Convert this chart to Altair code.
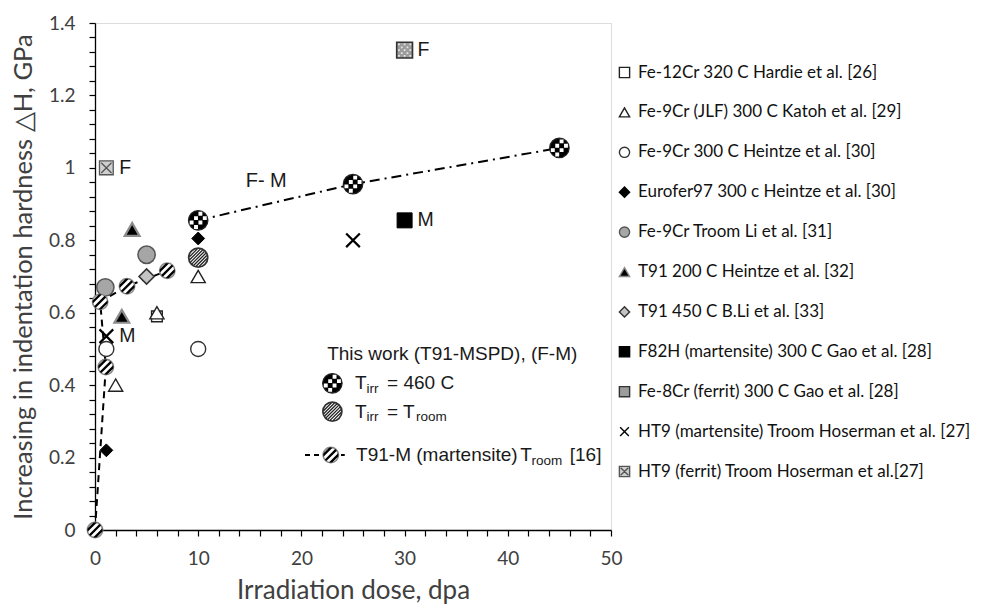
import altair as alt
import pandas as pd
import numpy as np

# ------------------------------------------------------------------ data
series_names = [
    "Fe-12Cr 320 C Hardie et al. [26]",
    "Fe-9Cr (JLF) 300 C Katoh et al. [29]",
    "Fe-9Cr 300 C Heintze et al. [30]",
    "Eurofer97 300 c Heintze et al. [30]",
    "Fe-9Cr Troom Li et al. [31]",
    "T91 200 C Heintze et al. [32]",
    "T91 450 C B.Li et al. [33]",
    "F82H (martensite) 300 C Gao et al. [28]",
    "Fe-8Cr (ferrit) 300 C Gao et al. [28]",
    "HT9 (martensite) Troom Hoserman et al. [27]",
    "HT9 (ferrit) Troom Hoserman et al.[27]",
]
series_dose = [
    [6.0],
    [2.0, 6.0, 10.0],
    [1.1, 10.0],
    [1.1, 10.0],
    [1.0, 5.0],
    [3.6, 2.6],
    [5.0],
    [30.0],
    [30.0],
    [1.1, 25.0],
    [1.1],
]
series_dh = [
    [0.59],
    [0.40, 0.60, 0.70],
    [0.50, 0.50],
    [0.22, 0.805],
    [0.67, 0.76],
    [0.83, 0.59],
    [0.70],
    [0.855],
    [1.325],
    [0.535, 0.80],
    [1.0],
]

# this work (T91-MSPD)
work460_dose = [10, 25, 45]
work460_dh = [0.855, 0.955, 1.055]
workroom_dose = [10]
workroom_dh = [0.752]
# T91-M (martensite) Troom [16]
t91m_dose = [0.0, 1.05, 0.5, 3.1, 7.0]
t91m_dh = [0.0, 0.45, 0.63, 0.673, 0.716]

# point tags
tag_series = ["Fe-8Cr (ferrit) 300 C Gao et al. [28]",
              "F82H (martensite) 300 C Gao et al. [28]",
              "HT9 (ferrit) Troom Hoserman et al.[27]",
              "HT9 (martensite) Troom Hoserman et al. [27]"]
tag_text = ["F", "M", "F", "M"]
fm_label = ["F- M"]
fm_dose = [14.6]
fm_dh = [0.965]

# inner legend (data coordinates)
inner_title = ["This work (T91-MSPD), (F-M)"]
inner_title_dose = [22.5]
inner_title_dh = [0.485]
inner_sym_kind = ["checker", "hatch", "stripe"]
inner_sym_dose = [23.0, 23.0, 22.85]
inner_sym_dh = [0.405, 0.327, 0.207]
inner_main_text = ["T", "= 460 C", "T", "= T", "T91-M (martensite)", "T", "[16]"]
inner_main_dose = [25.2, 28.3, 25.2, 28.3, 25.3, 41.2, 46.0]
inner_main_dh = [0.405, 0.405, 0.327, 0.327, 0.207, 0.207, 0.207]
inner_sub_text = ["irr", "irr", "room", "room"]
inner_sub_dose = [26.3, 26.3, 31.1, 42.3]
inner_sub_dh = [0.389, 0.311, 0.311, 0.19]
inner_dash_dose = [20.35, 24.2]
inner_dash_dh = [0.207, 0.207]

x_ticks = list(range(0, 51, 2))
y_ticks = [round(i * 0.04, 2) for i in range(36)]

# ------------------------------------------------------------------ styles
def sq(cx, cy, h):
    return f"M{cx-h:.3f},{cy-h:.3f}H{cx+h:.3f}V{cy+h:.3f}H{cx-h:.3f}Z"

cells = [-0.675, -0.225, 0.225, 0.675]
CHECK_PATH = " ".join(
    sq(cells[i], cells[j], 0.2)
    for i in range(4) for j in range(4)
    if (i + j) % 2 == 0 and (i, j) not in [(0, 0), (3, 3)]
)

# fine texture for the Fe-8Cr square
tex_cells = [-0.72, -0.36, 0.0, 0.36, 0.72]
TEXTURE_PATH = " ".join(
    sq(tex_cells[i], tex_cells[j], 0.11)
    for i in range(5) for j in range(5) if (i + j) % 2 == 0
)

def uv(u, v):
    s = np.sqrt(2)
    return (u + v) / s, (u - v) / s

hatch_parts = []
for c in [-0.72, -0.48, -0.24, 0.0, 0.24, 0.48, 0.72]:
    h = np.sqrt(0.93 ** 2 - c ** 2)
    x1, y1 = uv(c, -h)
    x2, y2 = uv(c, h)
    hatch_parts.append(f"M{x1:.3f},{y1:.3f}L{x2:.3f},{y2:.3f}")
HATCH_PATH = " ".join(hatch_parts)

band_parts = []
for a, b in [(-0.82, -0.52), (-0.15, 0.15), (0.52, 0.82)]:
    us = np.linspace(a, b, 8)
    ptsb = [uv(u, 0.97 * np.sqrt(max(1 - u * u, 0))) for u in us] + \
           [uv(u, -0.97 * np.sqrt(max(1 - u * u, 0))) for u in us[::-1]]
    band_parts.append("M" + "L".join(f"{x:.3f},{y:.3f}" for x, y in ptsb) + "Z")
STRIPE_PATH = " ".join(band_parts)

X_PATH = "M-0.85,-0.85L0.85,0.85M-0.85,0.85L0.85,-0.85"
XBOX_PATH = "M-1,-1L1,-1L1,1L-1,1Z M-0.75,-0.75L0.75,0.75M-0.75,0.75L0.75,-0.75"

shapes = ["square", "triangle-up", "circle", "diamond", "circle", "triangle-up",
          "diamond", "square", "square", X_PATH, XBOX_PATH]
fills = ["white", "white", "white", "black", "#a6a6a6", "black",
         "#c4c4c4", "black", "#9c9c9c", "black", "#cfcfcf"]
strokes = ["#222222", "#222222", "#333333", "black", "#555555", "#8c8c8c",
           "#333333", "black", "#333333", "black", "#555555"]
sizes = [115, 200, 225, 165, 300, 220, 230, 225, 250, 260, 190]
swidths = [1.4, 1.4, 1.4, 1.0, 1.5, 2.2, 1.6, 1.0, 1.6, 2.2, 1.3]

# ------------------------------------------------------------------ tables
rows = []
for k, (name, xs, ys) in enumerate(zip(series_names, series_dose, series_dh)):
    for xv, yv in zip(xs, ys):
        rows.append({"series": name, "dose": xv, "dh": yv,
                     "sz": sizes[k], "sw": swidths[k]})
pts = pd.DataFrame(rows)

tag_rows = []
for s, t in zip(tag_series, tag_text):
    i = series_names.index(s)
    tag_rows.append({"dose": series_dose[i][0], "dh": series_dh[i][0], "label": t})
tags = pd.DataFrame(tag_rows)

fe8 = series_names.index("Fe-8Cr (ferrit) 300 C Gao et al. [28]")
tex_pts = pd.DataFrame({"dose": series_dose[fe8], "dh": series_dh[fe8]})

w460 = pd.DataFrame({"dose": work460_dose, "dh": work460_dh})
wroom = pd.DataFrame({"dose": workroom_dose, "dh": workroom_dh})
t91m = pd.DataFrame({"dose": t91m_dose, "dh": t91m_dh, "o": list(range(len(t91m_dose)))})
fm = pd.DataFrame({"dose": fm_dose, "dh": fm_dh, "label": fm_label})
isym = pd.DataFrame({"dose": inner_sym_dose, "dh": inner_sym_dh, "kind": inner_sym_kind})
ititle = pd.DataFrame({"dose": inner_title_dose, "dh": inner_title_dh, "label": inner_title})
imain = pd.DataFrame({"dose": inner_main_dose, "dh": inner_main_dh, "label": inner_main_text})
isub = pd.DataFrame({"dose": inner_sub_dose, "dh": inner_sub_dh, "label": inner_sub_text})
idash = pd.DataFrame({"dose": inner_dash_dose, "dh": inner_dash_dh})

checker_pts = pd.concat([w460, isym[isym.kind == "checker"][["dose", "dh"]]])
hatch_pts = pd.concat([wroom, isym[isym.kind == "hatch"][["dose", "dh"]]])
stripe_pts = pd.concat([t91m[["dose", "dh"]], isym[isym.kind == "stripe"][["dose", "dh"]]])

# ------------------------------------------------------------------ chart
FONT_AX = "Lato"
FONT_IN = "Liberation Sans"

xscale = alt.Scale(domain=[0, 50], nice=False, zero=False)
yscale = alt.Scale(domain=[0, 1.4], nice=False, zero=False)

xaxis = alt.Axis(values=x_ticks, labelExpr="datum.value % 10 == 0 ? datum.label : ''",
                 title="Irradiation dose, dpa", grid=False, tickSize=6,
                 tickColor="black", domainColor="black", domainWidth=1.3, tickWidth=1.2,
                 labelFont=FONT_AX, labelFontSize=19, labelColor="#404040",
                 titleFont=FONT_AX, titleFontSize=26, titleFontWeight="normal",
                 titleColor="#404040", labelPadding=13, titlePadding=9,
                 labelFlush=False, labelOverlap=False)
yaxis = alt.Axis(values=y_ticks, format="~g",
                 labelExpr="(round(datum.value*100) % 20 == 0) ? datum.label : ''",
                 title="Increasing in indentation hardness \u25B3H, GPa", grid=False, tickSize=6,
                 tickColor="black", domainColor="black", domainWidth=1.3, tickWidth=1.2,
                 labelFont=FONT_AX, labelFontSize=19, labelColor="#404040",
                 titleFont=FONT_AX, titleFontSize=25.5, titleFontWeight="normal",
                 titleColor="#404040", labelPadding=14, titlePadding=12,
                 labelFlush=False, labelOverlap=False)

X = alt.X("dose:Q", scale=xscale, axis=xaxis)
Y = alt.Y("dh:Q", scale=yscale, axis=yaxis)

leg = alt.Legend(title=None, orient="none", legendX=521, legendY=41,
                 symbolSize=105, symbolStrokeWidth=1.4, labelFont=FONT_AX,
                 labelFontSize=17, labelColor="#111111", labelOffset=5,
                 rowPadding=21.9, labelLimit=500, padding=0)

t91m_line = alt.Chart(t91m).mark_line(color="black", strokeWidth=2, strokeDash=[7, 5]).encode(
    x=X, y=Y, order="o:Q")
work_line = alt.Chart(w460).mark_line(color="black", strokeWidth=2, strokeDash=[10, 5, 2, 5]).encode(
    x=X, y=Y)
dash_line = alt.Chart(idash).mark_line(color="black", strokeWidth=2, strokeDash=[5, 4]).encode(
    x=X, y=Y)

main = alt.Chart(pts).mark_point(opacity=1).encode(
    x=X, y=Y,
    shape=alt.Shape("series:N", scale=alt.Scale(domain=series_names, range=shapes), legend=leg),
    fill=alt.Fill("series:N", scale=alt.Scale(domain=series_names, range=fills), legend=leg),
    stroke=alt.Stroke("series:N", scale=alt.Scale(domain=series_names, range=strokes), legend=leg),
    size=alt.Size("sz:Q", scale=None),
    strokeWidth=alt.StrokeWidth("sw:Q", scale=None),
)

texture_top = alt.Chart(tex_pts).mark_point(
    shape=TEXTURE_PATH, size=250, fill="#e6e6e6", strokeWidth=0, opacity=1
).encode(x=X, y=Y)

SZ_BIG = 380
checker_base = alt.Chart(checker_pts).mark_point(
    shape="circle", size=SZ_BIG, fill="black", stroke="#222222", strokeWidth=1.2, opacity=1
).encode(x=X, y=Y)
checker_top = alt.Chart(checker_pts).mark_point(
    shape=CHECK_PATH, size=SZ_BIG, fill="white", strokeWidth=0, opacity=1
).encode(x=X, y=Y)

hatch_base = alt.Chart(hatch_pts).mark_point(
    shape="circle", size=360, fill="white", stroke="#333333", strokeWidth=1.8, opacity=1
).encode(x=X, y=Y)
hatch_top = alt.Chart(hatch_pts).mark_point(
    shape=HATCH_PATH, size=360, fill="transparent", stroke="#222222", strokeWidth=1.3, opacity=1
).encode(x=X, y=Y)

stripe_base = alt.Chart(stripe_pts).mark_point(
    shape="circle", size=235, fill="white", stroke="#8a8a8a", strokeWidth=1.6, opacity=1
).encode(x=X, y=Y)
stripe_top = alt.Chart(stripe_pts).mark_point(
    shape=STRIPE_PATH, size=235, fill="black", strokeWidth=0, opacity=1
).encode(x=X, y=Y)

tag_text_layer = alt.Chart(tags).mark_text(
    align="left", baseline="middle", dx=13, font=FONT_IN, fontSize=19.5, color="#1a1a1a"
).encode(x=X, y=Y, text="label:N")
fm_layer = alt.Chart(fm).mark_text(
    align="left", baseline="middle", font=FONT_IN, fontSize=20, color="#1a1a1a"
).encode(x=X, y=Y, text="label:N")
ititle_layer = alt.Chart(ititle).mark_text(
    align="left", baseline="middle", font=FONT_IN, fontSize=19, color="#1a1a1a"
).encode(x=X, y=Y, text="label:N")
imain_layer = alt.Chart(imain).mark_text(
    align="left", baseline="middle", font=FONT_IN, fontSize=19, color="#1a1a1a"
).encode(x=X, y=Y, text="label:N")
isub_layer = alt.Chart(isub).mark_text(
    align="left", baseline="middle", font=FONT_IN, fontSize=13.5, color="#1a1a1a"
).encode(x=X, y=Y, text="label:N")

chart = alt.layer(
    t91m_line, work_line, dash_line,
    main, texture_top,
    checker_base, checker_top,
    hatch_base, hatch_top,
    stripe_base, stripe_top,
    tag_text_layer, fm_layer, ititle_layer, imain_layer, isub_layer,
).properties(
    width=516, height=507,
    autosize=alt.AutoSizeParams(type="none"),
    padding={"left": 95, "top": 23, "right": 381, "bottom": 74},
).configure_view(
    stroke="black", strokeWidth=1.3
).configure(background="white")

chart.save("out.html", embed_options={"renderer": "svg", "actions": False})
